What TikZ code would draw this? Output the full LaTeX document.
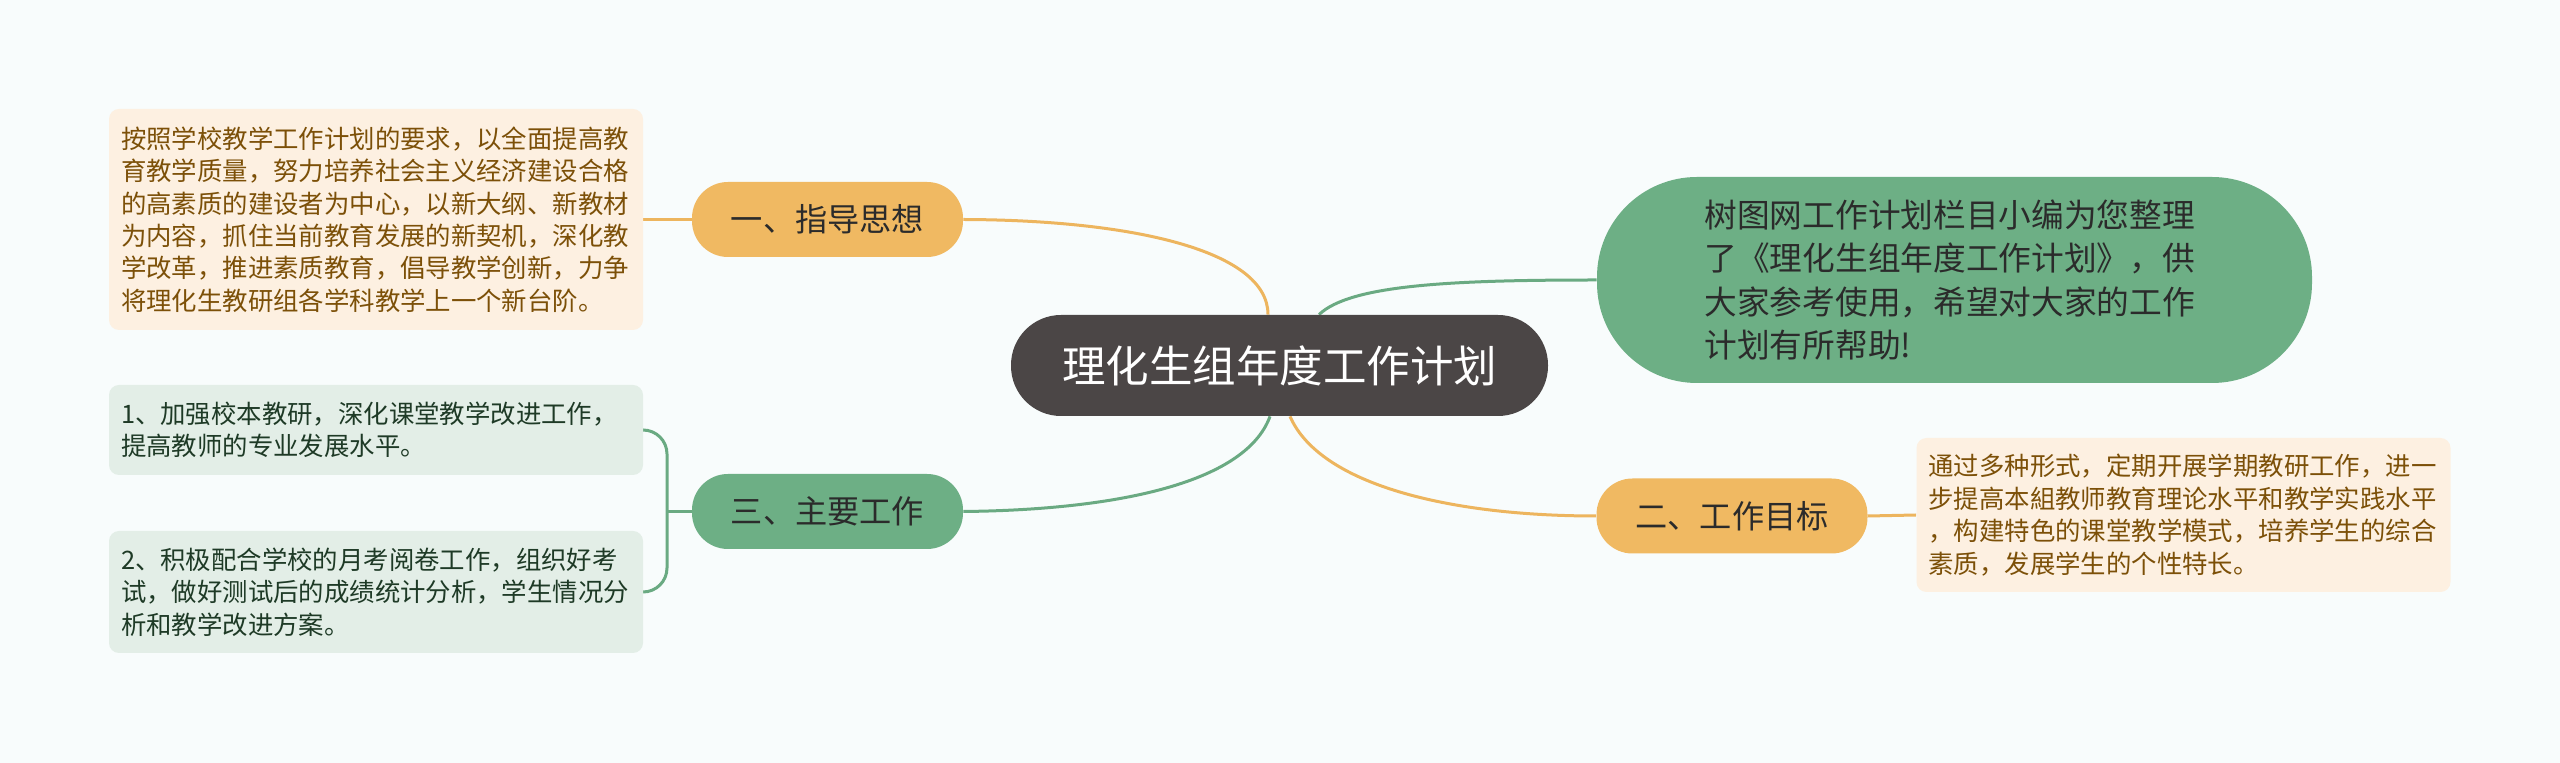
\documentclass[tikz,border=0pt]{standalone}
\usepackage{fontspec}
\setmainfont{Noto Sans CJK SC}
\usetikzlibrary{backgrounds}
\definecolor{bg}{HTML}{F8FCFC}
\definecolor{cdark}{HTML}{4B4646}
\definecolor{orangeF}{HTML}{F0B962}
\definecolor{greenF}{HTML}{6DAF85}
\definecolor{lineO}{HTML}{EDB55E}
\definecolor{lineG}{HTML}{6AAA82}
\definecolor{noteO}{HTML}{FDF0E1}
\definecolor{noteG}{HTML}{E3EEE7}
\definecolor{txtBrown}{HTML}{7C5008}
\definecolor{txtGreen}{HTML}{1E3A26}
\definecolor{txtDark}{HTML}{2B2B2B}
\begin{document}
\begin{tikzpicture}[x=0.5pt,y=-0.5pt,
  central/.style={fill=cdark, rounded corners=25pt, minimum width=268.5pt, minimum height=50.5pt,
    text=white, font=\fontsize{21.75}{26}\selectfont, inner sep=0pt},
  branchO/.style={fill=orangeF, rounded corners=18pt, minimum width=135.5pt, minimum height=37.5pt,
    text=txtDark, font=\fontsize{16.1}{20}\selectfont, inner sep=0pt},
  branchG/.style={branchO, fill=greenF},
  notebox/.style={rounded corners=5pt, text width=255pt, inner xsep=6pt, inner ysep=0pt, align=left,
    font=\fontsize{12.7}{16.2}\selectfont},
  noteO/.style={notebox, fill=noteO, text=txtBrown},
  noteG/.style={notebox, fill=noteG, text=txtGreen},
  bigG/.style={fill=greenF, rounded corners=50pt, minimum width=357.5pt, minimum height=103pt,
    text width=250pt, align=left, inner sep=0pt, text=txtDark, font=\fontsize{16.35}{21.65}\selectfont},
  lO/.style={draw=lineO, line width=1.5pt},
  lG/.style={draw=lineG, line width=1.5pt}
]
\useasboundingbox (0,0) rectangle (2560,763);

\node[central] (c) at (1279.5,365.5) {理化生组年度工作计划};
\node[bigG] (g) at (1954.5,280) {树图网工作计划栏目小编为您整理\\了《理化生组年度工作计划》，供\\大家参考使用，希望对大家的工作\\计划有所帮助!};
\node[branchO] (b1) at (827.5,219.5) {一、指导思想};
\node[branchO] (b2) at (1732,516) {二、工作目标};
\node[branchG] (b3) at (827.5,511.5) {三、主要工作};

\node[noteO, minimum height=110.5pt] (n1) at (376,219.5) {按照学校教学工作计划的要求，以全面提高教\\育教学质量，努力培养社会主义经济建设合格\\的高素质的建设者为中心，以新大纲、新教材\\为内容，抓住当前教育发展的新契机，深化教\\学改革，推进素质教育，倡导教学创新，力争\\将理化生教研组各学科教学上一个新台阶。};
\node[noteG, minimum height=45pt] (n2) at (376,430) {1、加强校本教研，深化课堂教学改进工作，\\提高教师的专业发展水平。};
\node[noteG, minimum height=61pt] (n3) at (376,592) {2、积极配合学校的月考阅卷工作，组织好考\\试，做好测试后的成绩统计分析，学生情况分\\析和教学改进方案。};
\node[noteO, minimum height=77pt] (n4) at (2183.5,515) {通过多种形式，定期开展学期教研工作，进一\\步提高本組教师教育理论水平和教学实践水平\\，构建特色的课堂教学模式，培养学生的综合\\素质，发展学生的个性特长。};

\coordinate (br) at (667,511.5);

\begin{pgfonlayer}{background}
\fill[bg] (0,0) rectangle (2560,763);
\draw[lO] (b1.east) .. controls (1130,220) and (1268,250) .. ([xshift=-5.75pt]c.north);
\draw[lG] ([xshift=19.75pt]c.north) .. controls (1350,285) and (1450,280) .. (g.west);
\draw[lG] ([xshift=-4.75pt]c.south) .. controls (1245,485) and (1110,510) .. (b3.east);
\draw[lO] ([xshift=5.25pt]c.south) .. controls (1320,485) and (1450,516) .. (b2.west);
\draw[lO] (n1.east) -- (b1.west);
\draw[lO] (b2.east) -- (n4.west);
\draw[lG] (b3.west) -- (br);
\draw[lG, rounded corners=12pt] (n2.east) -| (br) |- (n3.east);
\end{pgfonlayer}
\end{tikzpicture}
\end{document}
